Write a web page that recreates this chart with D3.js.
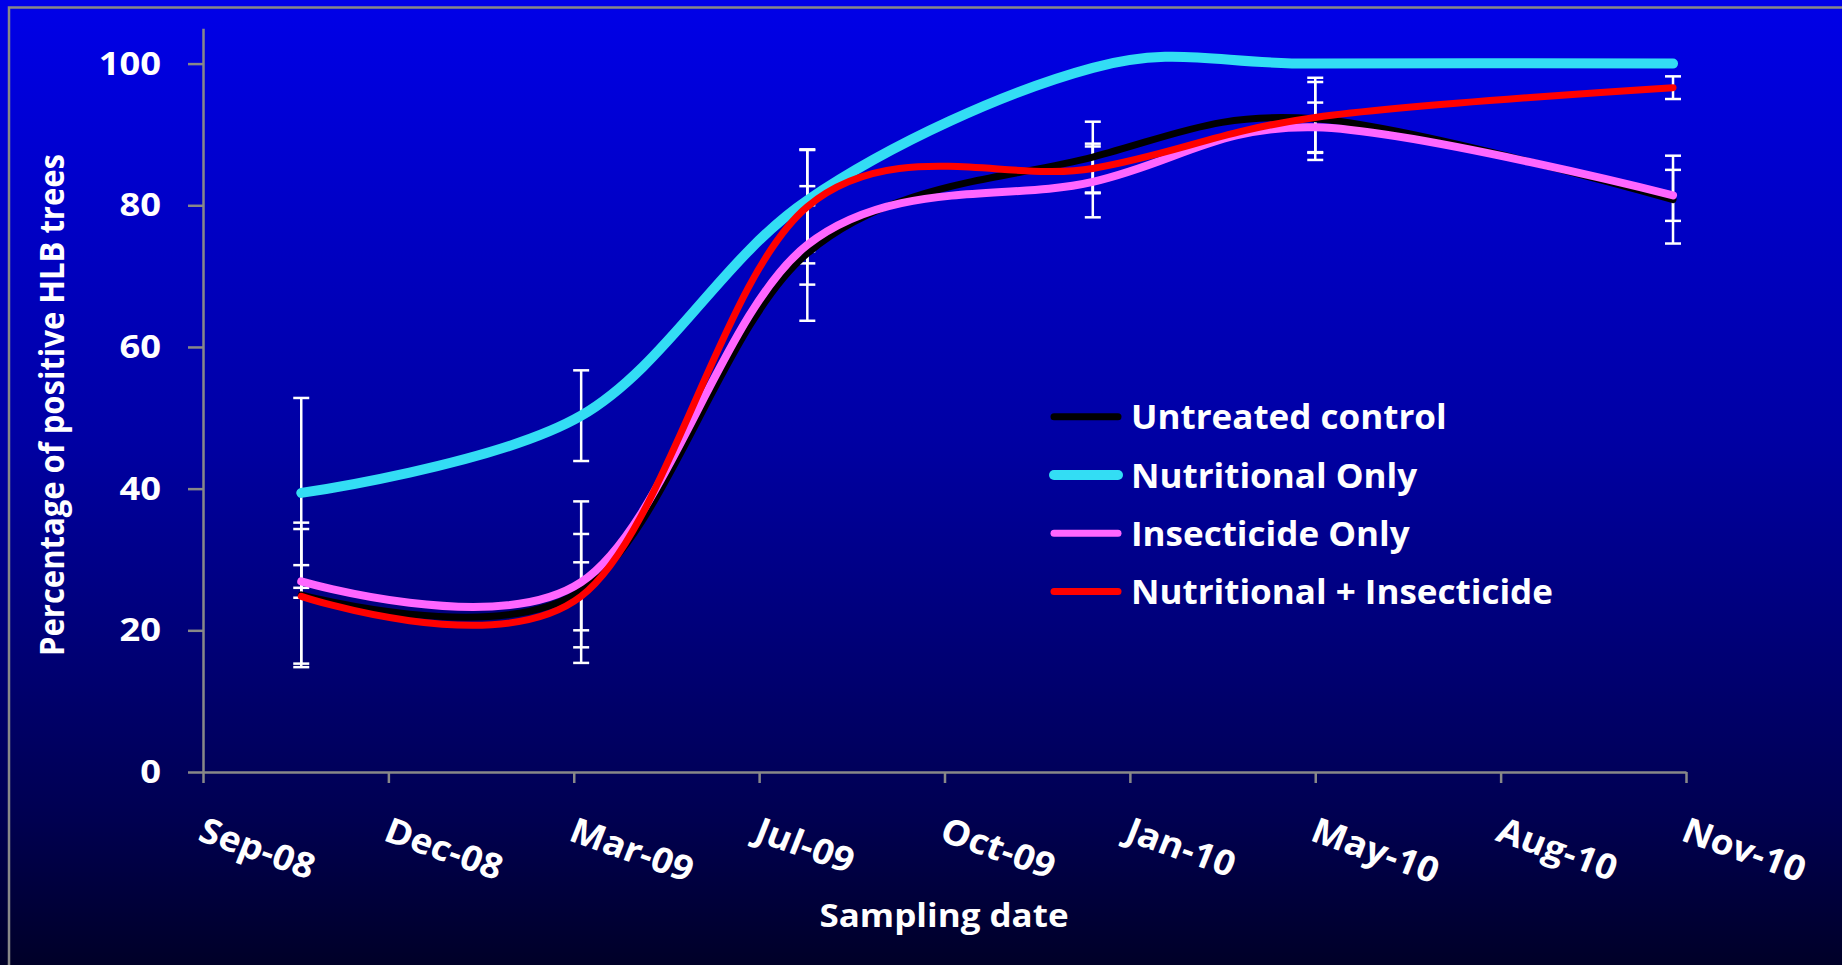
<!DOCTYPE html>
<html><head><meta charset="utf-8">
<script src="https://cdn.jsdelivr.net/npm/d3@7/dist/d3.min.js"></script>
<style>html,body{margin:0;padding:0;background:#000030;overflow:hidden}</style>
</head><body>
<svg id="chart" width="1842" height="965"></svg>
<script>
// ---- data ----
const sampleDates = ["2008-10-24","2009-03-24","2009-07-24","2009-12-25","2010-04-24","2010-11-03"];
const seriesNames = ["Untreated control","Nutritional Only","Insecticide Only","Nutritional + Insecticide"];
const untreated   = [25.0, 25.6, 73.2, 86.8, 92.2, 80.8];
const nutritional = [39.4, 50.3, 80.7, 99.4, 100.0, 100.0];
const insecticide = [26.9, 26.8, 74.4, 83.3, 91.0, 81.4];
const combined    = [24.8, 24.8, 79.8, 85.2, 92.4, 96.6];
const untreatedErr   = [10.2, 8.0, 9.5, 5.0, 5.8, 6.2];
const nutritionalErr = [13.4, 6.4, 7.2, 0, 0, 0];
const insecticideErr = [2.3, 11.4, 5.6, 5.0, 3.5, 3.6];
const combinedErr    = [9.5, 4.8, 8.0, 3.5, 5.0, 1.6];
const axisStart = "2008-09-01", axisEnd = "2010-11-10";
const tickLabels = ["Sep-08","Dec-08","Mar-09","Jul-09","Oct-09","Jan-10","May-10","Aug-10","Nov-10"];
const yTicks = [0, 20, 40, 60, 80, 100];
const yMax = 105;
const yTitle = "Percentage of positive HLB trees";
const xTitle = "Sampling date";

// ---- styles ----
const colors = ["#000000", "#33DDF4", "#FF66FF", "#FF0000"];
const widths = [7, 10, 8, 7];
const legendWidths = [7, 10, 7, 7];
const FONT = "'Open Sans', Lato, sans-serif";
const AXIS = "#888888";

const W = 1842, H = 965;
const parse = d3.timeParse("%Y-%m-%d");
const svg = d3.select("#chart");

const defs = svg.append("defs");
const grad = defs.append("linearGradient").attr("id","bg").attr("x1",0).attr("y1",0).attr("x2",0).attr("y2",1);
[[0,"#0000E8"],[0.45,"#0000A4"],[0.85,"#000050"],[1,"#000028"]].forEach(([o,c]) =>
  grad.append("stop").attr("offset",o).attr("stop-color",c));
svg.append("rect").attr("width",W).attr("height",H).attr("fill","url(#bg)");
svg.append("rect").attr("x",9).attr("y",7.5).attr("width",W+20).attr("height",H+20)
  .attr("fill","none").attr("stroke",AXIS).attr("stroke-width",2.5);

const x = d3.scaleTime().domain([parse(axisStart), parse(axisEnd)]).range([203, 1686]);
const y = d3.scaleLinear().domain([0, yMax]).range([772, 772 - yMax*7.084]);

const t0 = +parse(axisStart), t1 = +parse(axisEnd);
const tickDates = tickLabels.map((_, i) => new Date(t0 + i*(t1 - t0)/(tickLabels.length - 1)));

function styleText(sel, fs) {
  return sel.attr("fill","#fff").style("font-family",FONT).style("font-weight","bold").style("font-size",fs+"px");
}

// x axis
const gx = svg.append("g").attr("transform", `translate(0,${y(0)})`)
  .call(d3.axisBottom(x).tickValues(tickDates).tickFormat((d,i)=>tickLabels[i]).tickSize(11).tickSizeOuter(0));
styleText(gx.selectAll("text"), 35).attr("x",0).attr("y",0).attr("dy",null)
  .attr("text-anchor","start").attr("transform","translate(-7,68) scale(1.06,1) rotate(20.5)");
// y axis
const gy = svg.append("g").attr("transform", `translate(${x.range()[0]},0)`)
  .call(d3.axisLeft(y).tickValues(yTicks).tickSize(15).tickPadding(27).tickSizeOuter(0));
styleText(gy.selectAll("text"), 33).attr("x",0).attr("transform","translate(-42,0) scale(1.1,1)");
[gx, gy].forEach(g => g.selectAll("path,line").attr("stroke", AXIS).attr("stroke-width", 2.5));

// titles
styleText(svg.append("text").attr("transform","translate(64,405) scale(1.08,1) rotate(-90)")
  .attr("text-anchor","middle"), 31).text(yTitle);
styleText(svg.append("text").attr("transform","translate(944,927) scale(1.06,1)")
  .attr("text-anchor","middle"), 33).text(xTitle);

// series
const values = [untreated, nutritional, insecticide, combined];
const errs = [untreatedErr, nutritionalErr, insecticideErr, combinedErr];
const series = seriesNames.map((name, s) => ({
  name, s,
  pts: sampleDates.map((d, i) => ({date: parse(d), v: values[s][i], e: errs[s][i]}))
}));

// error bars
const eb = svg.append("g");
series.forEach(se => se.pts.filter(p => p.e > 0).forEach(p => {
  const cx = x(p.date), yt = y(p.v + p.e), yb = y(p.v - p.e);
  eb.append("line").attr("x1",cx).attr("x2",cx).attr("y1",yt).attr("y2",yb);
  eb.append("line").attr("x1",cx-8).attr("x2",cx+8).attr("y1",yt).attr("y2",yt);
  eb.append("line").attr("x1",cx-8).attr("x2",cx+8).attr("y1",yb).attr("y2",yb);
}));
eb.selectAll("line").attr("stroke","#fff").attr("stroke-width",2.5);

const line = d3.line().x(d => x(d.date)).y(d => y(d.v)).curve(d3.curveCardinal.tension(0));
svg.append("g").selectAll("path").data(series).join("path")
  .attr("d", d => line(d.pts)).attr("fill","none")
  .attr("stroke", d => colors[d.s]).attr("stroke-width", d => widths[d.s])
  .attr("stroke-linecap","round").attr("stroke-linejoin","round");

// legend
const lg = svg.append("g");
series.forEach((se, i) => {
  const ly = 416.7 + i*58.3;
  lg.append("line").attr("x1",1054).attr("x2",1118).attr("y1",ly).attr("y2",ly)
    .attr("stroke",colors[i]).attr("stroke-width",legendWidths[i]).attr("stroke-linecap","round");
  styleText(lg.append("text").attr("transform",`translate(1131,${ly+12.6}) scale(1.03,1)`), 34).text(se.name);
});
</script>
</body></html>
